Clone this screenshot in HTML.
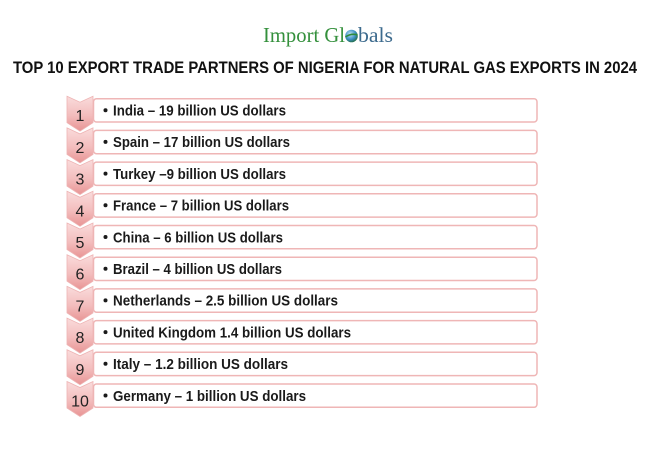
<!DOCTYPE html>
<html>
<head>
<meta charset="utf-8">
<style>
html,body{margin:0;padding:0;background:#fff;}
svg{display:block;}
</style>
</head>
<body>
<svg width="650" height="450" viewBox="0 0 650 450" xmlns="http://www.w3.org/2000/svg">
<defs>
<linearGradient id="cg" x1="0" y1="0" x2="0" y2="1">
<stop offset="0" stop-color="#fadcdc"/>
<stop offset="0.55" stop-color="#f3bdbd"/>
<stop offset="1" stop-color="#e89494"/>
</linearGradient>
<radialGradient id="gl" cx="0.4" cy="0.35" r="0.7">
<stop offset="0" stop-color="#bfe3f5"/>
<stop offset="0.6" stop-color="#3c8fc4"/>
<stop offset="1" stop-color="#1f6a3a"/>
</radialGradient>
</defs>
<rect width="650" height="450" fill="#fff"/>

<!-- Logo -->
<text x="263" y="42" font-family="Liberation Serif, serif" font-size="21" fill="#34903c" textLength="82" lengthAdjust="spacingAndGlyphs">Import Gl</text>
<circle cx="351.5" cy="36" r="6.3" fill="url(#gl)"/>
<path d="M345.5,37 Q351,33 357.5,35" stroke="#2f8a3a" stroke-width="1.6" fill="none"/>
<text x="358" y="42" font-family="Liberation Serif, serif" font-size="21" fill="#3d6b8e" textLength="35" lengthAdjust="spacingAndGlyphs">bals</text>

<!-- Title -->
<text x="13" y="73" font-family="Liberation Sans, sans-serif" font-weight="bold" font-size="16.5" fill="#111" textLength="624" lengthAdjust="spacingAndGlyphs">TOP 10 EXPORT TRADE PARTNERS OF NIGERIA FOR NATURAL GAS EXPORTS IN 2024</text>

<g font-family="Liberation Sans, sans-serif">
<g transform="translate(0,98.7)">
<rect x="93.5" y="0" width="443.5" height="23.3" rx="3" fill="#fff" stroke="#efb6b6" stroke-width="1.5"/>
<path d="M67,-2.5 L80,3.5 L93,-2.5 L93,24 L80,32.5 L67,24 Z" fill="url(#cg)" stroke="#eeb4b4" stroke-width="0.8"/>
<text x="80" y="22.5" text-anchor="middle" font-size="16" fill="#222">1</text>
<circle cx="105.5" cy="11.5" r="2" fill="#1a1a1a"/>
<text x="113" y="16.8" font-size="15" font-weight="bold" fill="#1a1a1a" textLength="173" lengthAdjust="spacingAndGlyphs">India – 19 billion US dollars</text>
</g>
<g transform="translate(0,130.4)">
<rect x="93.5" y="0" width="443.5" height="23.3" rx="3" fill="#fff" stroke="#efb6b6" stroke-width="1.5"/>
<path d="M67,-2.5 L80,3.5 L93,-2.5 L93,24 L80,32.5 L67,24 Z" fill="url(#cg)" stroke="#eeb4b4" stroke-width="0.8"/>
<text x="80" y="22.5" text-anchor="middle" font-size="16" fill="#222">2</text>
<circle cx="105.5" cy="11.5" r="2" fill="#1a1a1a"/>
<text x="113" y="16.8" font-size="15" font-weight="bold" fill="#1a1a1a" textLength="177" lengthAdjust="spacingAndGlyphs">Spain – 17 billion US dollars</text>
</g>
<g transform="translate(0,162.1)">
<rect x="93.5" y="0" width="443.5" height="23.3" rx="3" fill="#fff" stroke="#efb6b6" stroke-width="1.5"/>
<path d="M67,-2.5 L80,3.5 L93,-2.5 L93,24 L80,32.5 L67,24 Z" fill="url(#cg)" stroke="#eeb4b4" stroke-width="0.8"/>
<text x="80" y="22.5" text-anchor="middle" font-size="16" fill="#222">3</text>
<circle cx="105.5" cy="11.5" r="2" fill="#1a1a1a"/>
<text x="113" y="16.8" font-size="15" font-weight="bold" fill="#1a1a1a" textLength="173" lengthAdjust="spacingAndGlyphs">Turkey –9 billion US dollars</text>
</g>
<g transform="translate(0,193.8)">
<rect x="93.5" y="0" width="443.5" height="23.3" rx="3" fill="#fff" stroke="#efb6b6" stroke-width="1.5"/>
<path d="M67,-2.5 L80,3.5 L93,-2.5 L93,24 L80,32.5 L67,24 Z" fill="url(#cg)" stroke="#eeb4b4" stroke-width="0.8"/>
<text x="80" y="22.5" text-anchor="middle" font-size="16" fill="#222">4</text>
<circle cx="105.5" cy="11.5" r="2" fill="#1a1a1a"/>
<text x="113" y="16.8" font-size="15" font-weight="bold" fill="#1a1a1a" textLength="176" lengthAdjust="spacingAndGlyphs">France – 7 billion US dollars</text>
</g>
<g transform="translate(0,225.5)">
<rect x="93.5" y="0" width="443.5" height="23.3" rx="3" fill="#fff" stroke="#efb6b6" stroke-width="1.5"/>
<path d="M67,-2.5 L80,3.5 L93,-2.5 L93,24 L80,32.5 L67,24 Z" fill="url(#cg)" stroke="#eeb4b4" stroke-width="0.8"/>
<text x="80" y="22.5" text-anchor="middle" font-size="16" fill="#222">5</text>
<circle cx="105.5" cy="11.5" r="2" fill="#1a1a1a"/>
<text x="113" y="16.8" font-size="15" font-weight="bold" fill="#1a1a1a" textLength="170" lengthAdjust="spacingAndGlyphs">China – 6 billion US dollars</text>
</g>
<g transform="translate(0,257.2)">
<rect x="93.5" y="0" width="443.5" height="23.3" rx="3" fill="#fff" stroke="#efb6b6" stroke-width="1.5"/>
<path d="M67,-2.5 L80,3.5 L93,-2.5 L93,24 L80,32.5 L67,24 Z" fill="url(#cg)" stroke="#eeb4b4" stroke-width="0.8"/>
<text x="80" y="22.5" text-anchor="middle" font-size="16" fill="#222">6</text>
<circle cx="105.5" cy="11.5" r="2" fill="#1a1a1a"/>
<text x="113" y="16.8" font-size="15" font-weight="bold" fill="#1a1a1a" textLength="169" lengthAdjust="spacingAndGlyphs">Brazil – 4 billion US dollars</text>
</g>
<g transform="translate(0,288.9)">
<rect x="93.5" y="0" width="443.5" height="23.3" rx="3" fill="#fff" stroke="#efb6b6" stroke-width="1.5"/>
<path d="M67,-2.5 L80,3.5 L93,-2.5 L93,24 L80,32.5 L67,24 Z" fill="url(#cg)" stroke="#eeb4b4" stroke-width="0.8"/>
<text x="80" y="22.5" text-anchor="middle" font-size="16" fill="#222">7</text>
<circle cx="105.5" cy="11.5" r="2" fill="#1a1a1a"/>
<text x="113" y="16.8" font-size="15" font-weight="bold" fill="#1a1a1a" textLength="225" lengthAdjust="spacingAndGlyphs">Netherlands – 2.5 billion US dollars</text>
</g>
<g transform="translate(0,320.6)">
<rect x="93.5" y="0" width="443.5" height="23.3" rx="3" fill="#fff" stroke="#efb6b6" stroke-width="1.5"/>
<path d="M67,-2.5 L80,3.5 L93,-2.5 L93,24 L80,32.5 L67,24 Z" fill="url(#cg)" stroke="#eeb4b4" stroke-width="0.8"/>
<text x="80" y="22.5" text-anchor="middle" font-size="16" fill="#222">8</text>
<circle cx="105.5" cy="11.5" r="2" fill="#1a1a1a"/>
<text x="113" y="16.8" font-size="15" font-weight="bold" fill="#1a1a1a" textLength="238" lengthAdjust="spacingAndGlyphs">United Kingdom 1.4 billion US dollars</text>
</g>
<g transform="translate(0,352.3)">
<rect x="93.5" y="0" width="443.5" height="23.3" rx="3" fill="#fff" stroke="#efb6b6" stroke-width="1.5"/>
<path d="M67,-2.5 L80,3.5 L93,-2.5 L93,24 L80,32.5 L67,24 Z" fill="url(#cg)" stroke="#eeb4b4" stroke-width="0.8"/>
<text x="80" y="22.5" text-anchor="middle" font-size="16" fill="#222">9</text>
<circle cx="105.5" cy="11.5" r="2" fill="#1a1a1a"/>
<text x="113" y="16.8" font-size="15" font-weight="bold" fill="#1a1a1a" textLength="175" lengthAdjust="spacingAndGlyphs">Italy – 1.2 billion US dollars</text>
</g>
<g transform="translate(0,384)">
<rect x="93.5" y="0" width="443.5" height="23.3" rx="3" fill="#fff" stroke="#efb6b6" stroke-width="1.5"/>
<path d="M67,-2.5 L80,3.5 L93,-2.5 L93,24 L80,32.5 L67,24 Z" fill="url(#cg)" stroke="#eeb4b4" stroke-width="0.8"/>
<text x="80" y="22.5" text-anchor="middle" font-size="16" fill="#222">10</text>
<circle cx="105.5" cy="11.5" r="2" fill="#1a1a1a"/>
<text x="113" y="16.8" font-size="15" font-weight="bold" fill="#1a1a1a" textLength="193" lengthAdjust="spacingAndGlyphs">Germany – 1 billion US dollars</text>
</g>
</g>
</svg>
</body>
</html>
